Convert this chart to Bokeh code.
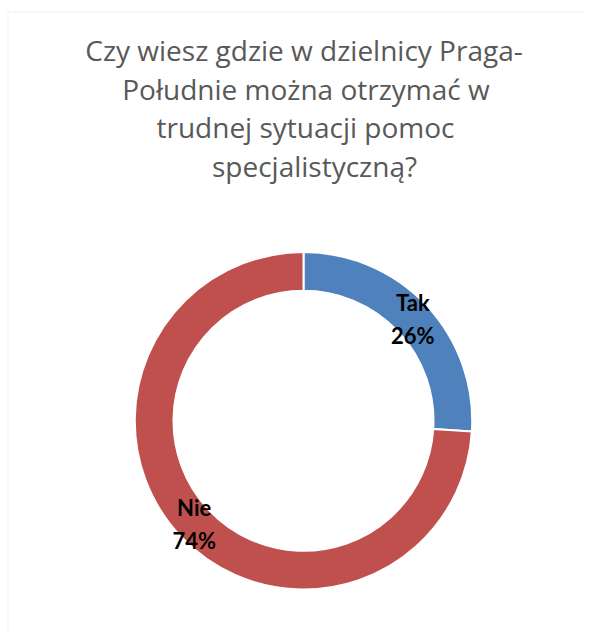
import math
from bokeh.plotting import figure
from bokeh.models import Range1d, PolyAnnotation, ColumnDataSource
from bokeh.core.properties import value
from bokeh.embed import file_html
from bokeh.resources import INLINE

# ---- data ----
title_lines = [
    "Czy wiesz gdzie w dzielnicy Praga-",
    "Południe można otrzymać w",
    "trudnej sytuacji pomoc",
    "specjalistyczną?",
]
categories = ["Tak", "Nie"]
percent = [26, 74]
colors = ["#4F81BD", "#C0504D"]

# ---- layout (pixel-like data space, y measured upward) ----
W, H = 585, 631
p = figure(width=W, height=H, output_backend="svg", toolbar_location=None,
           x_range=Range1d(0, W), y_range=Range1d(0, H), min_border=0)
p.axis.visible = False
p.xgrid.visible = False
p.ygrid.visible = False
p.outline_line_color = None
p.background_fill_color = "white"
p.border_fill_color = "white"

# chart area border (only left/top visible, like the reference)
p.add_layout(PolyAnnotation(xs=[7.5, 7.5, W + 60, W + 60],
                            ys=[-60, H - 11.5, H - 11.5, -60],
                            fill_alpha=0, line_color="#D9D9D9", line_width=1.5))

# title
tx = [303.5, 305.5, 305, 314]
ty = [H - 49.5 - 38.5 * i for i in range(len(title_lines))]
p.text(x=tx, y=ty, text=title_lines, text_align="center",
       text_baseline="alphabetic", text_font=value("Open Sans"),
       text_font_size="28px", text_color="#595959")

# donut
cx, cy = 303, H - 420.3
r_out, r_in = 168.7, 130
total = sum(percent)
cum = [0]
for v in percent:
    cum.append(cum[-1] + v / total)
start = [math.pi / 2 - 2 * math.pi * cum[i + 1] for i in range(len(percent))]
end = [math.pi / 2 - 2 * math.pi * cum[i] for i in range(len(percent))]
src = ColumnDataSource(dict(x=[cx] * len(percent), y=[cy] * len(percent),
                            start=start, end=end, color=colors))
p.annular_wedge(x="x", y="y", inner_radius=r_in, outer_radius=r_out,
                start_angle="start", end_angle="end", fill_color="color",
                line_color="white", line_width=2, source=src)

# labels
mid = [(s + e) / 2 for s, e in zip(start, end)]
r_lab = 150
lx = [cx + r_lab * math.cos(a) for a in mid]
ly = [cy + r_lab * math.sin(a) for a in mid]
pct_text = [f"{v}%" for v in percent]
p.text(x=lx, y=ly, text=categories, text_align="center", text_baseline="alphabetic",
       y_offset=-16, text_font=value("Lato"), text_font_style="bold",
       text_font_size="22px", text_color="black")
p.text(x=lx, y=ly, text=pct_text, text_align="center", text_baseline="alphabetic",
       y_offset=17, text_font=value("Lato"), text_font_style="bold",
       text_font_size="22px", text_color="black")

open("out.html", "w").write(file_html(p, INLINE))
